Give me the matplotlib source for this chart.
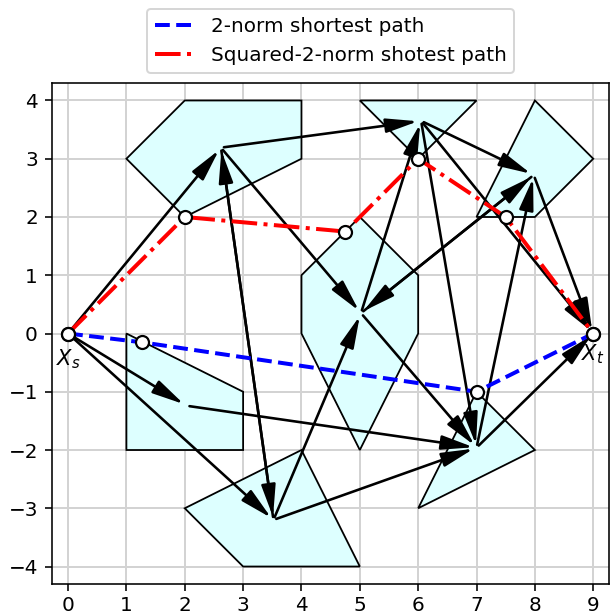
import matplotlib
matplotlib.use("Agg")
import matplotlib.pyplot as plt
from matplotlib.patches import Polygon

# Convex regions (polygon vertices)
poly_1 = [(1, 3), (2, 4), (4, 4), (4, 3), (2, 2)]
poly_2 = [(5, 4), (7, 4), (6, 3)]
poly_3 = [(7, 2), (8, 4), (9, 3), (8, 2)]
poly_4 = [(4, 1), (5, 2), (6, 1), (6, 0), (5, -2), (4, 0)]
poly_5 = [(1, 0), (3, -1), (3, -2), (1, -2)]
poly_6 = [(2, -3), (4, -2), (5, -4), (3, -4)]
poly_7 = [(6, -3), (7, -1), (8, -2)]
polygons = [poly_1, poly_2, poly_3, poly_4, poly_5, poly_6, poly_7]

# Graph nodes
node_names = ["Xs", "A", "B", "C", "D", "E", "F", "G", "Xt"]
node_x = [0.0, 2.62, 6.05, 7.98, 5.02, 2.03, 3.52, 7.00, 9.0]
node_y = [0.0, 3.19, 3.65, 2.72, 0.35, -1.24, -3.20, -1.96, 0.0]

# Directed edges
edges = [("Xs", "A"), ("Xs", "E"), ("Xs", "F"),
         ("A", "B"), ("A", "D"), ("A", "F"), ("F", "A"),
         ("F", "D"), ("F", "G"), ("E", "G"), ("D", "G"),
         ("D", "B"), ("D", "C"), ("C", "D"), ("B", "C"),
         ("B", "G"), ("B", "Xt"), ("G", "C"), ("C", "Xt"), ("G", "Xt")]

# Shortest paths
path2_x = [0, 1.26, 7, 9]
path2_y = [0, -0.15, -1, 0]
pathsq_x = [0, 2, 4.75, 6, 7.5, 9]
pathsq_y = [0, 2, 1.75, 3, 2, 0]

xticks = list(range(0, 10))
yticks = list(range(-4, 5))

dpi = 144
fig = plt.figure(figsize=(610 / dpi, 614 / dpi), dpi=dpi)
ax = fig.add_axes([52 / 610, 1 - 584 / 614, 557 / 610, 501 / 614])
ax.set_axisbelow(True)
ax.grid(True, color="#d3d3d3", lw=1.0)

for p in polygons:
    ax.add_patch(Polygon(p, closed=True, facecolor="#ddffff", edgecolor="black", lw=0.9, zorder=2))

pos = {n: (x, y) for n, x, y in zip(node_names, node_x, node_y)}
for a, b in edges:
    ax.annotate("", xy=pos[b], xytext=pos[a],
                arrowprops=dict(arrowstyle="-|>,head_length=1.35,head_width=0.3",
                                color="black", lw=1.3, shrinkA=1.5, shrinkB=1.5,
                                mutation_scale=10),
                zorder=3)

ax.plot(path2_x, path2_y, "b--", lw=2, label="2-norm shortest path", zorder=4)
ax.plot(pathsq_x, pathsq_y, "r-.", lw=2, label="Squared-2-norm shotest path", zorder=4)
ax.plot(path2_x, path2_y, "o", ls="none", mfc="white", mec="black", ms=6.5, mew=1.1, zorder=5)
ax.plot(pathsq_x, pathsq_y, "o", ls="none", mfc="white", mec="black", ms=6.5, mew=1.1, zorder=5)

ax.text(0, -0.24, "$X_s$", ha="center", va="top", fontsize=10.5)
ax.text(9, -0.15, "$X_t$", ha="center", va="top", fontsize=10.5)

ax.set_xticks(xticks)
ax.set_yticks(yticks)
ax.tick_params(axis="x", pad=2.5)
ax.set_xlim(-0.275, 9.27)
ax.set_ylim(-4.3, 4.3)

ax.legend(loc="lower center", bbox_to_anchor=(0.5, 1.0))

fig.savefig("out.png", dpi=dpi)
